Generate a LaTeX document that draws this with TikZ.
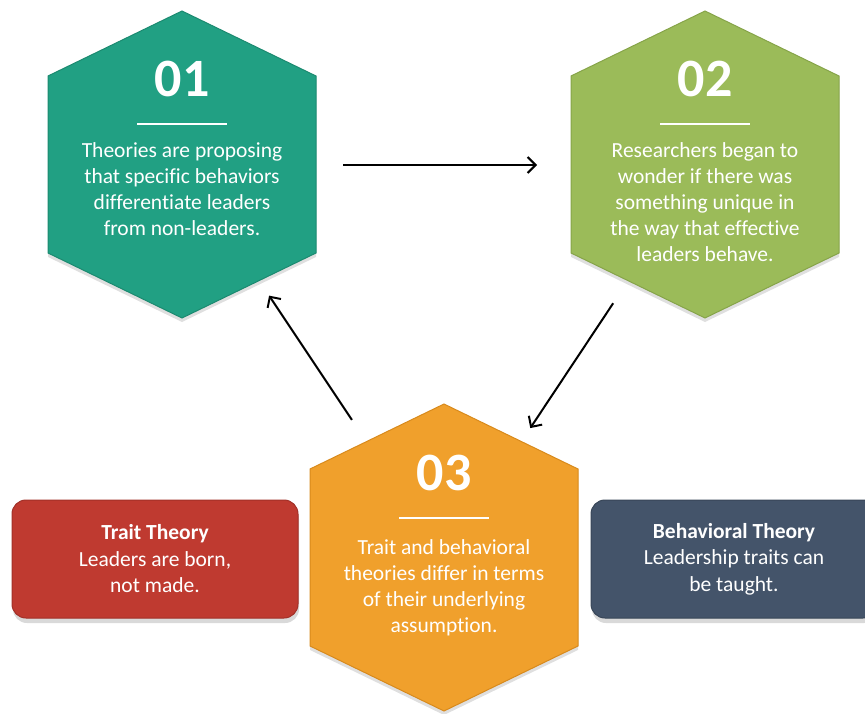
\documentclass[tikz,border=0pt]{standalone}
\usepackage{fontspec}
\setmainfont{Carlito}[Ligatures={NoCommon}]
\usetikzlibrary{arrows.meta,shadows}
\definecolor{hexteal}{HTML}{21A083}
\definecolor{hextealline}{HTML}{1B8A70}
\definecolor{hexgreen}{HTML}{9BBB59}
\definecolor{hexgreenline}{HTML}{86A449}
\definecolor{hexorange}{HTML}{F0A02C}
\definecolor{hexorangeline}{HTML}{D88A1C}
\definecolor{boxred}{HTML}{BF3A30}
\definecolor{boxredline}{HTML}{A23028}
\definecolor{boxslate}{HTML}{44546A}
\definecolor{boxslateline}{HTML}{384658}
\begin{document}
\begin{tikzpicture}[
  x=1pt, y=-1pt,
  hexbody/.style = {line width=1pt,
    drop shadow={opacity=0.25, shadow xshift=0pt, shadow yshift=-4pt}},
  hexnum/.style = {text=white, inner sep=0pt,
    font=\bfseries\fontsize{54}{54}\selectfont},
  hextext/.style = {text=white, align=center, anchor=north, inner sep=0pt,
    font=\fontsize{21.5}{26}\selectfont},
  rulebar/.style = {white, line width=2.5pt},
  sidebox/.style = {shape=rectangle, rounded corners=14pt, line width=1pt,
    minimum width=286pt, minimum height=118pt, align=center, text=white,
    font=\fontsize{21.5}{26.5}\selectfont,
    drop shadow={opacity=0.3, shadow xshift=1pt, shadow yshift=-5pt}},
  flow/.style = {-{Straight Barb[length=8pt,width=16pt]}, line width=2pt}
  ]
  \useasboundingbox (0,0) rectangle (865,714);
  \coordinate (c1) at (182,165);
  \coordinate (c2) at (705,165);
  \coordinate (c3) at (444,558);
  % hexagons
  \foreach \c/\col in {c1/hexteal, c2/hexgreen, c3/hexorange} {
    \draw[hexbody, fill=\col, draw=\col line]
      (\c) +(0,-154) -- +(134,-89) -- +(134,88) -- +(0,153)
      -- +(-134,88) -- +(-134,-89) -- cycle;
  }
  % numbers
  \node[hexnum] (num1) at ([yshift=86pt]c1) {01};
  \node[hexnum] (num2) at ([yshift=86pt]c2) {02};
  \node[hexnum] (num3) at ([yshift=85pt]c3) {03};
  \draw[rulebar] ([shift={(-45,-41)}]c1) -- ([shift={(45,-41)}]c1);
  \draw[rulebar] ([shift={(-45,-41)}]c2) -- ([shift={(45,-41)}]c2);
  \draw[rulebar] ([shift={(-45,-40)}]c3) -- ([shift={(45,-40)}]c3);
  % hexagon texts
  \node[hextext] (txt1) at ([yshift=23pt]c1)
    {Theories are proposing\\that specific behaviors\\differentiate leaders\\from non-leaders.};
  \node[hextext] (txt2) at ([yshift=23pt]c2)
    {Researchers began to\\wonder if there was\\something unique in\\the way that effective\\leaders behave.};
  \node[hextext] (txt3) at ([yshift=19pt]c3)
    {Trait and behavioral\\theories differ in terms\\of their underlying\\assumption.};
  % side boxes
  \node[sidebox, fill=boxred, draw=boxredline] (trait) at (155,559)
    {\textbf{Trait Theory}\\Leaders are born,\\not made.};
  \node[sidebox, fill=boxslate, draw=boxslateline] (behav) at (734,559)
    {\textbf{Behavioral Theory}\\Leadership traits can\\be taught.};
  % cycle arrows
  \draw[flow, shorten <=161pt, shorten >=168pt] (c1) -- (c2);
  \draw[flow, shorten <=166pt, shorten >=156pt] (c2) -- (c3);
  \draw[flow, shorten <=166pt, shorten >=157pt] (c3) -- (c1);
\end{tikzpicture}
\end{document}
